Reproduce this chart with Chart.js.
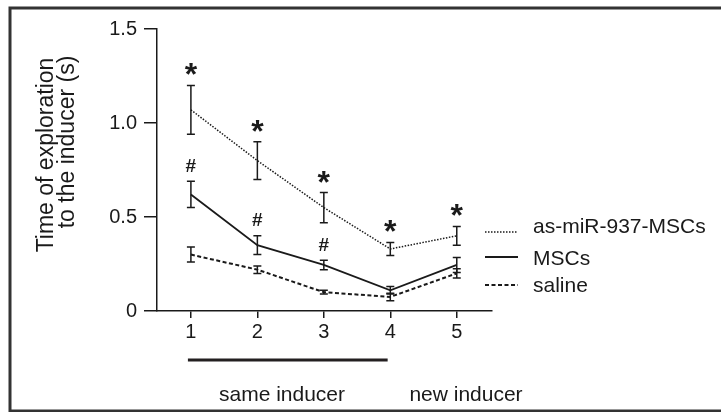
<!DOCTYPE html>
<html>
<head>
<meta charset="utf-8">
<script src="https://cdn.jsdelivr.net/npm/chart.js@4"></script>
<style>
  body { margin: 0; background: #fff; }
  #wrap { width: 721px; height: 412px; }
</style>
</head>
<body>
<div id="wrap"><canvas id="chart" width="721" height="412"></canvas></div>
<script>
// trial numbers
const trials = [1, 2, 3, 4, 5];

// group means and SEM
const asMirMean = [1.07, 0.80, 0.55, 0.33, 0.40];
const asMirErr = [0.13, 0.10, 0.08, 0.035, 0.05];
const mscMean = [0.62, 0.35, 0.245, 0.11, 0.245];
const mscErr = [0.07, 0.05, 0.025, 0.02, 0.04];
const salineMean = [0.30, 0.22, 0.10, 0.075, 0.20];
const salineErr = [0.04, 0.02, 0.01, 0.02, 0.025];

// significance marks above each point
const asMirMarks = ["*", "*", "*", "*", "*"];
const mscMarks = ["#", "#", "#", "", ""];

const yTicks = [0, 0.5, 1.0, 1.5];

const FONT = "'Liberation Sans', Arial, sans-serif";
const INK = "#1a1a1a";

const datasets = [
  { label: "as-miR-937-MSCs", mean: asMirMean, err: asMirErr, marks: asMirMarks, dash: [1.5, 1.5], width: 1.5 },
  { label: "MSCs", mean: mscMean, err: mscErr, marks: mscMarks, dash: [], width: 1.8 },
  { label: "saline", mean: salineMean, err: salineErr, marks: null, dash: [4, 2.5], width: 2 },
].map(d => ({
  label: d.label,
  data: trials.map((t, i) => ({ x: t, y: d.mean[i] })),
  errors: d.err,
  marks: d.marks,
  borderColor: INK,
  borderWidth: d.width,
  borderDash: d.dash,
  pointRadius: 0,
  fill: false,
  tension: 0,
}));

// error bars, significance marks, legend, labels and frame
const extras = {
  id: "extras",
  beforeDraw(chart) {
    const ctx = chart.ctx;
    ctx.save();
    ctx.fillStyle = "#fff";
    ctx.fillRect(0, 0, chart.width, chart.height);
    // frame (cut off on the right)
    ctx.strokeStyle = "#333";
    ctx.lineWidth = 3;
    ctx.beginPath();
    ctx.moveTo(chart.width + 5, 8);
    ctx.lineTo(10, 8);
    ctx.lineTo(10, 411);
    ctx.lineTo(chart.width + 5, 411);
    ctx.stroke();
    ctx.restore();
  },
  afterDatasetsDraw(chart) {
    const ctx = chart.ctx;
    const xs = chart.scales.x, ys = chart.scales.y;
    ctx.save();
    ctx.strokeStyle = INK;
    ctx.fillStyle = INK;
    ctx.lineWidth = 1.5;
    ctx.setLineDash([]);
    chart.data.datasets.forEach(ds => {
      ds.data.forEach((p, i) => {
        const px = xs.getPixelForValue(p.x);
        const top = ys.getPixelForValue(p.y + ds.errors[i]);
        const bot = ys.getPixelForValue(p.y - ds.errors[i]);
        ctx.beginPath();
        ctx.moveTo(px, top); ctx.lineTo(px, bot);
        ctx.moveTo(px - 4, top); ctx.lineTo(px + 4, top);
        ctx.moveTo(px - 4, bot); ctx.lineTo(px + 4, bot);
        ctx.stroke();
        const mark = ds.marks ? ds.marks[i] : "";
        if (mark) {
          ctx.font = mark === "*" ? "bold 32px " + FONT : "bold 19px " + FONT;
          ctx.textAlign = "center";
          ctx.textBaseline = "alphabetic";
          const m = ctx.measureText(mark);
          const cy = top - 16;
          const off = (m.actualBoundingBoxAscent - m.actualBoundingBoxDescent) / 2;
          ctx.fillText(mark, px, cy + off);
        }
      });
    });

    // legend
    const rows = [
      { line: 232, text: 233 },
      { line: 257, text: 265 },
      { line: 285, text: 292 },
    ];
    chart.data.datasets.forEach((ds, i) => {
      ctx.lineWidth = ds.borderWidth;
      ctx.setLineDash(ds.borderDash);
      ctx.beginPath();
      ctx.moveTo(485, rows[i].line);
      ctx.lineTo(518, rows[i].line);
      ctx.stroke();
      ctx.setLineDash([]);
      ctx.font = "21px " + FONT;
      ctx.textAlign = "left";
      ctx.textBaseline = "alphabetic";
      ctx.fillText(ds.label, 533, rows[i].text);
    });

    // bar under the "same inducer" trials
    ctx.strokeStyle = "#231f20";
    ctx.lineWidth = 3;
    ctx.beginPath();
    ctx.moveTo(xs.getPixelForValue(0.955), 360);
    ctx.lineTo(xs.getPixelForValue(3.96), 360);
    ctx.stroke();

    ctx.font = "21px " + FONT;
    ctx.textAlign = "center";
    ctx.fillText("same inducer", 282, 401);
    ctx.fillText("new inducer", 466, 401);

    // y axis title
    ctx.font = "23px " + FONT;
    ctx.save();
    ctx.translate(53, 155);
    ctx.rotate(-Math.PI / 2);
    ctx.fillText("Time of exploration", 0, 0);
    ctx.restore();
    ctx.save();
    ctx.translate(74, 142);
    ctx.rotate(-Math.PI / 2);
    ctx.fillText("to the inducer (s)", 0, 0);
    ctx.restore();

    ctx.restore();
  },
};

new Chart(document.getElementById("chart"), {
  type: "line",
  data: { datasets },
  plugins: [extras],
  options: {
    responsive: false,
    animation: false,
    layout: { padding: { left: 0, top: 29, right: 229, bottom: 71 } },
    plugins: { legend: { display: false }, tooltip: { enabled: false } },
    scales: {
      x: {
        type: "linear",
        min: 0.49,
        max: 5.53,
        afterFit: s => { s.height = 30; },
        afterBuildTicks: s => { s.ticks = trials.map(v => ({ value: v })); },
        grid: { drawOnChartArea: false, color: INK, lineWidth: 1.5, tickLength: 7 },
        border: { color: INK, width: 1.5 },
        ticks: { color: INK, font: { family: FONT, size: 20 }, padding: 2 },
      },
      y: {
        type: "linear",
        min: 0,
        max: 1.5,
        afterFit: s => { s.width = 157; },
        afterBuildTicks: s => { s.ticks = yTicks.map(v => ({ value: v })); },
        grid: { drawOnChartArea: false, color: INK, lineWidth: 1.5, tickLength: 13 },
        border: { color: INK, width: 1.5 },
        ticks: {
          color: INK,
          font: { family: FONT, size: 20 },
          padding: 7,
          callback: v => (v === 0 ? "0" : v.toFixed(1)),
        },
      },
    },
  },
});
</script>
</body>
</html>
